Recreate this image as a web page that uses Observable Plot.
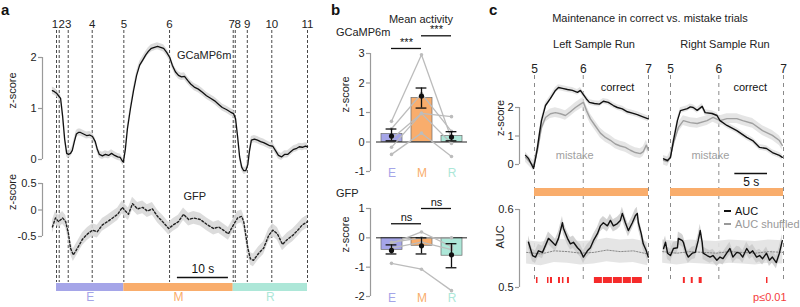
<!DOCTYPE html>
<html><head><meta charset="utf-8">
<script src="https://cdn.jsdelivr.net/npm/d3@7"></script>
<script src="https://cdn.jsdelivr.net/npm/@observablehq/plot@0.6"></script>
<style>
body{margin:0;background:#fff;}
#root{position:relative;width:800px;height:307px;overflow:hidden;font-family:"Liberation Sans",Arial,sans-serif;color:#222;background:#fff;}
.lbl{position:absolute;font-size:11px;white-space:nowrap;line-height:1;}
</style></head><body><div id="root"></div>
<script>
// ---------------- data ----------------
const phases = ["E", "M", "R"];
const phaseColors = ["#a5a5e8", "#f9ad6c", "#ade7d8"];

// panel a
const eventNamesA = ["1","2","3","4","5","6","7","8","9","10","11"];
const eventTimesA = [0, 0.53, 2.3, 7.0, 13.2, 22.16, 34.64, 35.04, 37.4, 42.2, 49.2];
const phaseStartA = [0, 13.2, 34.64];
const phaseEndA = [13.2, 34.64, 49.2];
const gcampT = [-0.8,-0.4,0,0.4,0.8,1.2,1.6,2.0,2.35,2.75,3.1,3.5,3.9,4.3,4.7,5.3,5.9,6.5,7.06,7.6,8.0,8.4,9.0,9.6,10.2,10.8,11.4,12.0,12.5,12.9,13.1,13.5,13.9,14.5,15.1,15.7,16.3,16.9,17.5,18.0,18.6,19.2,19.8,20.4,21.0,21.6,22.2,22.7,23.3,23.9,24.5,25.1,25.7,26.3,27.0,27.8,28.6,29.4,30.2,31.0,31.8,32.5,33.3,34.1,34.7,35.1,35.5,35.9,36.3,36.7,37.1,37.5,37.8,38.2,38.8,39.4,40.0,40.6,41.2,41.8,42.4,42.9,43.5,44.1,44.7,45.3,45.9,46.5,47.1,47.6,48.2,48.8,49.2];
const gcampZ = [1.35,1.33,1.3,1.25,1.2,0.85,0.4,0.12,0.1,0.12,0.18,0.35,0.5,0.53,0.53,0.5,0.47,0.48,0.45,0.35,0.2,0.1,0.07,0.1,0.08,0.12,0.08,0.05,0.04,-0.03,-0.05,0.2,0.6,1.0,1.35,1.65,1.85,1.95,2.05,2.12,2.18,2.2,2.22,2.2,2.18,2.1,2.0,1.85,1.72,1.65,1.62,1.63,1.55,1.48,1.42,1.38,1.32,1.25,1.2,1.15,1.08,1.02,0.98,0.93,0.9,0.8,0.45,0.05,-0.15,-0.22,-0.22,-0.1,0.15,0.38,0.4,0.38,0.35,0.33,0.3,0.27,0.26,0.18,0.08,0.05,0.1,0.1,0.15,0.2,0.22,0.25,0.24,0.26,0.25];
const gcampSem = 0.07;
const gfpT = [-0.8,-0.2,0.4,1.2,1.8,2.35,2.75,3.3,4.1,5.1,6.1,7.06,8.0,9.0,10.0,11.0,12.0,12.9,13.5,14.1,14.9,15.9,16.9,17.8,18.8,19.8,20.8,22.0,22.9,23.9,24.9,25.9,26.9,28.2,29.6,30.8,31.8,32.7,33.7,34.7,35.5,36.3,36.7,37.5,38.0,38.6,39.6,40.6,41.6,42.4,43.3,44.3,45.3,46.3,47.3,48.2,49.2];
const gfpZ = [-0.32,-0.15,-0.22,-0.15,-0.22,-0.45,-0.72,-0.85,-0.72,-0.55,-0.45,-0.38,-0.41,-0.28,-0.22,-0.15,-0.08,0.05,-0.02,-0.08,0.12,0.02,0.05,-0.02,0.02,-0.12,-0.22,-0.35,-0.28,-0.22,-0.08,-0.18,-0.15,-0.18,-0.28,-0.35,-0.32,-0.38,-0.45,-0.28,-0.15,-0.12,-0.22,-0.72,-0.92,-0.95,-0.82,-0.72,-0.48,-0.38,-0.45,-0.65,-0.55,-0.48,-0.38,-0.28,-0.22];
const gfpSem = 0.12;

// panel b
const gcampBar = [0.27, 1.49, 0.2];
const gcampErrLo = [0.04, 1.15, 0.04];
const gcampErrHi = [0.44, 1.83, 0.35];
const gcampMean = [0.2, 1.56, 0.17];
const gcampSubjects = [
  [0.7, 2.96, 0.1],
  [0.45, 1.64, 0.36],
  [0.1, 0.97, 0.86],
  [-0.18, 0.97, -0.05],
  [-0.42, 0.3, -0.49]
];
const gfpBar = [-0.41, -0.27, -0.61];
const gfpErrLo = [-0.55, -0.55, -1.02];
const gfpErrHi = [-0.24, 0.0, -0.2];
const gfpMean = [-0.43, -0.27, -0.58];
const gfpSubjects = [
  [-0.87, -1.07, -1.8],
  [-0.2, 0.2, -0.3],
  [-0.15, 0.0, 0.0],
  [-0.35, -0.15, -0.4]
];
const sigGcamp = [{a:"E", b:"M", level:3.17, label:"***"}, {a:"M", b:"R", level:3.6, label:"***"}];
const sigGfp = [{a:"E", b:"M", level:0.48, label:"ns"}, {a:"M", b:"R", level:1.0, label:"ns"}];

// panel c
const eventNamesC = ["5", "6", "7"];
const eventTimesC = [0, 7.4, 17.3];
const leftCorrT = [-1.36,-0.91,-0.45,-0.15,0.15,0.45,0.76,1.06,1.67,2.42,3.18,3.64,4.24,5.0,5.76,6.52,6.97,7.42,7.88,8.33,9.09,9.85,10.45,11.2,11.97,12.58,13.33,14.09,14.85,15.6,16.36,17.27];
const leftCorrZ = [0.32,0.21,0.0,-0.14,0.2,0.6,1.1,1.54,2.07,2.32,2.6,2.7,2.67,2.63,2.6,2.53,2.6,2.45,2.3,2.18,2.14,2.12,2.22,2.18,2.07,2.0,1.95,1.85,1.8,1.75,1.68,1.6];
const leftMistT = [-1.36,-0.76,-0.15,0.45,1.06,1.67,2.42,3.18,3.94,4.7,5.45,6.21,6.97,7.42,7.88,8.48,9.24,10.0,10.76,11.52,12.27,13.03,13.79,14.55,15.3,16.06,16.5,16.97,17.27];
const leftMistZ = [0.25,0.1,-0.04,0.49,1.3,1.65,1.78,1.82,1.78,1.72,1.85,2.0,2.12,2.18,1.9,1.6,1.35,1.1,0.95,0.85,0.72,0.65,0.6,0.5,0.42,0.38,0.45,0.68,0.5];
const rightCorrT = [-1.06,-0.45,0,0.45,1.06,1.52,2.58,3.03,3.48,4.09,4.85,5.3,6.36,7.12,7.58,8.64,10.15,11.67,12.58,13.64,14.7,15.6,16.67,17.12];
const rightCorrZ = [0.2,0.14,0.25,0.84,1.54,1.89,1.96,2.02,2.0,1.9,2.04,1.82,1.79,1.72,1.54,1.37,1.19,0.95,0.84,0.6,0.56,0.42,0.32,0.25];
const rightMistT = [-1.06,-0.45,0,0.45,1.21,1.97,3.03,4.09,5.6,6.52,7.58,8.64,10.15,11.06,12.58,14.09,15.6,16.67,17.12];
const rightMistZ = [0.15,0.1,0.3,0.74,1.3,1.54,1.47,1.44,1.54,1.65,1.54,1.61,1.61,1.54,1.44,1.19,1.02,0.84,0.67];
const corrSem = 0.1, mistSem = 0.17;
const leftAucT = [-0.91,-0.3,0.15,0.6,1.21,1.67,2.12,2.73,3.18,3.64,4.24,4.39,5.0,5.45,5.91,6.52,6.97,7.42,8.03,8.48,8.94,9.55,10.0,10.45,11.06,11.52,11.97,12.58,13.03,13.33,13.79,14.24,14.85,15.3,15.6,15.76,16.2,16.5,16.97,17.27];
const leftAuc = [0.558,0.541,0.539,0.547,0.545,0.554,0.563,0.558,0.554,0.563,0.583,0.576,0.563,0.556,0.558,0.551,0.547,0.539,0.547,0.551,0.56,0.569,0.579,0.583,0.579,0.586,0.579,0.582,0.586,0.595,0.583,0.573,0.583,0.592,0.595,0.583,0.569,0.556,0.547,0.539];
const rightAucT = [-1.06,-0.76,-0.45,0,0.45,1.06,1.21,1.82,1.97,2.42,2.73,3.33,3.79,4.24,4.55,4.85,5.0,5.6,6.06,6.5,7.1,7.58,8.03,8.6,9.1,9.55,10.15,10.6,11.06,11.67,12.12,12.58,13.18,13.64,14.1,14.7,15.15,15.6,16.2,16.67,17.12];
const rightAuc = [0.55,0.558,0.544,0.541,0.55,0.551,0.563,0.56,0.558,0.544,0.539,0.544,0.545,0.56,0.573,0.558,0.544,0.541,0.539,0.541,0.535,0.539,0.537,0.544,0.55,0.539,0.545,0.544,0.539,0.55,0.544,0.547,0.539,0.541,0.537,0.544,0.535,0.539,0.532,0.544,0.56];
const shufT = [-1.2,1,3,5,7,9,11,13,15,17.2];
const leftShuf = [0.545,0.543,0.547,0.546,0.544,0.545,0.548,0.546,0.547,0.543];
const rightShuf = [0.546,0.544,0.546,0.545,0.544,0.546,0.545,0.544,0.546,0.545];
const aucSem = 0.008, shufSem = 0.015;
const sigLeft = [[0.3,0.53],[1.97,2.2],[2.42,2.73],[3.64,3.94],[4.24,4.47],[5.0,5.3],[9.09,10.3],[10.45,11.82],[11.97,13.33],[13.48,14.7],[14.85,16.36]];
const sigRight = [[1.97,2.27],[3.18,3.48],[4.39,4.85],[14.7,14.92]];

// ---------------- helpers ----------------
const W = 800, H = 307;
const FONT = "'Liberation Sans', Arial, sans-serif";
const AX = "#9a9a9a";
const root = document.getElementById("root");
const zipTZ = (T, Z) => T.map((t, i) => ({t, z: Z[i]}));

function place(opts) {
  const svg = Plot.plot({
    width: W, height: H, marginTop: 0, marginRight: 0, marginBottom: 0, marginLeft: 0,
    color: {type: "identity"},
    ...opts,
    style: {"position": "absolute", "left": "0px", "top": "0px", "overflow": "visible",
            "font-family": FONT, "font-size": "11px", "background": "transparent"}
  });
  root.append(svg);
}
function axisPlot({left, top, bottom, domain, ticks, label, labelDx}) {
  place({
    marginLeft: left, marginRight: W - left - 1, marginTop: top, marginBottom: H - bottom,
    x: {domain: [0, 1], axis: null}, y: {domain, axis: null},
    marks: [
      Plot.ruleX([0], {stroke: AX, strokeWidth: 1.2}),
      Plot.axisY({ticks, tickFormat: d => String(d), tickSize: 4, tickPadding: 2, stroke: AX, strokeWidth: 1.2, fill: "#222", fontSize: 11, label: null}),
      Plot.text([label], {text: d => d, frameAnchor: "left", dx: labelDx, rotate: -90, fontSize: 11, fill: "#222"})
    ]
  });
}
function label(text, x, y, {anchor = "start", size = 11, color = "#222", weight = "normal"} = {}) {
  const d = document.createElement("div");
  d.className = "lbl";
  d.textContent = text;
  d.style.left = x + "px"; d.style.top = y + "px";
  d.style.fontSize = size + "px"; d.style.color = color; d.style.fontWeight = weight;
  const tx = anchor === "middle" ? "-50%" : anchor === "end" ? "-100%" : "0";
  d.style.transform = `translate(${tx},-50%)`;
  root.append(d);
  return d;
}

// ---------------- panel a ----------------
const gcamp = zipTZ(gcampT, gcampZ);
const gfp = zipTZ(gfpT, gfpZ);
const eventsA = eventNamesA.map((name, i) => ({name, t: eventTimesA[i]}));
const phaseA = phases.map((name, i) => ({name, start: phaseStartA[i], end: phaseEndA[i], color: phaseColors[i]}));
const xA = {domain: [0, 49.2], range: [56, 307], axis: null};

place({
  marginTop: 30, marginBottom: H - 282, x: xA, y: {domain: [0, 1], axis: null},
  marks: [
    Plot.ruleX(eventsA, {x: "t", stroke: "#333", strokeWidth: 0.9, strokeDasharray: "3,2"}),
    Plot.text(eventsA.filter(d => !["1","2","7","8"].includes(d.name)), {x: "t", text: "name", frameAnchor: "top", dy: -11, fontSize: 11.5, fill: "#222"}),
    Plot.text(eventsA.filter(d => ["1","7"].includes(d.name)), {x: "t", text: "name", frameAnchor: "top", dy: -11, dx: -1.5, fontSize: 11.5, fill: "#222"}),
    Plot.text(eventsA.filter(d => ["2","8"].includes(d.name)), {x: "t", text: "name", frameAnchor: "top", dy: -11, dx: 2.5, fontSize: 11.5, fill: "#222"}),
    Plot.ruleY([{start: 23.7, len: 10}], {y: () => 0, x1: "start", x2: d => d.start + d.len, dy: -5, stroke: "#111", strokeWidth: 1.3}),
    Plot.text([{start: 23.7, len: 10, label: "10 s"}], {x: d => d.start + d.len / 2, y: () => 0, text: "label", dy: -13, fontSize: 12, fill: "#111"})
  ]
});
axisPlot({left: 42, top: 57, bottom: 159, domain: [0, 2], ticks: [0, 1, 2], label: "z-score", labelDx: -30});
place({
  marginTop: 57, marginBottom: H - 159, x: xA, y: {domain: [0, 2], axis: null},
  marks: [
    Plot.areaY(gcamp, {x: "t", y1: d => d.z - gcampSem, y2: d => d.z + gcampSem, fill: "#d6d6d6", fillOpacity: 0.85}),
    Plot.lineY(gcamp, {x: "t", y: "z", stroke: "#111", strokeWidth: 1.3}),
    Plot.text(["GCaMP6m"], {x: 23.6, y: 2.04, text: d => d, textAnchor: "start", fontSize: 11, fill: "#222"})
  ]
});
axisPlot({left: 42, top: 183, bottom: 236, domain: [-0.5, 0.5], ticks: [-0.5, 0, 0.5], label: "z-score", labelDx: -30});
place({
  marginTop: 183, marginBottom: H - 236, x: xA, y: {domain: [-0.5, 0.5], axis: null},
  marks: [
    Plot.areaY(gfp, {x: "t", y1: d => d.z - gfpSem, y2: d => d.z + gfpSem, fill: "#d6d6d6", fillOpacity: 0.85}),
    Plot.lineY(gfp, {x: "t", y: "z", stroke: "#222", strokeWidth: 1.4, strokeDasharray: "2,2"}),
    Plot.text(["GFP"], {x: 24.9, y: 0.26, text: d => d, textAnchor: "start", fontSize: 11, fill: "#222"})
  ]
});
place({
  marginTop: 283, marginBottom: H - 291, x: xA,
  marks: [
    Plot.barX(phaseA, {x1: "start", x2: "end", fill: "color"}),
    Plot.text(phaseA, {x: d => (d.start + d.end) / 2, text: "name", fill: "color", frameAnchor: "bottom", dy: 9, fontSize: 12})
  ]
});

// ---------------- panel b ----------------
// bars on a band scale; overlays on a linear scale of the condition index (centres 391, 421, 451)
const xBband = {type: "band", domain: phases, range: [376, 466], paddingInner: 0.3, paddingOuter: 0.15, axis: null};
const xBidx = {domain: [0, 2], range: [391, 451], axis: null};
const capHalf = 0.18;
function barPanel({top, bottom, domain, ticks, bars, lo, hi, mean, subjects, sig}) {
  axisPlot({left: 370, top, bottom, domain, ticks, label: "z-score", labelDx: -25});
  const barData = phases.map((c, i) => ({c, i, v: bars[i], color: phaseColors[i], lo: lo[i], hi: hi[i], m: mean[i]}));
  const capData = barData.flatMap(d => [{i: d.i, y: d.lo}, {i: d.i, y: d.hi}]);
  const subj = subjects.flatMap((row, s) => row.map((v, i) => ({s, i, v})));
  const sigData = sig.map(d => ({...d, ia: phases.indexOf(d.a), ib: phases.indexOf(d.b)}));
  const common = {marginLeft: 376, marginRight: W - 467, marginTop: top, marginBottom: H - bottom, y: {domain, axis: null}};
  place({
    ...common, x: xBband,
    marks: [
      Plot.barY(barData, {x: "c", y: "v", fill: "color", stroke: "#6a6a6a", strokeWidth: 0.7}),
      Plot.ruleY([0], {stroke: "#222", strokeWidth: 1}),
      Plot.text(barData, {x: "c", text: "c", fill: "color", frameAnchor: "bottom", dy: 5, fontSize: 12})
    ]
  });
  place({
    ...common, x: xBidx,
    marks: [
      Plot.line(subj, {x: "i", y: "v", z: "s", stroke: "#bcbcbc", strokeWidth: 1.3}),
      Plot.dot(subj, {x: "i", y: "v", r: 1.8, fill: "#bcbcbc"}),
      Plot.ruleX(barData, {x: "i", y1: "lo", y2: "hi", stroke: "#111", strokeWidth: 1.3}),
      Plot.ruleY(capData, {y: "y", x1: d => d.i - capHalf, x2: d => d.i + capHalf, stroke: "#111", strokeWidth: 1.3}),
      Plot.dot(barData, {x: "i", y: "m", r: 2.6, fill: "#111"}),
      Plot.ruleY(sigData, {y: "level", x1: "ia", x2: "ib", stroke: "#111", strokeWidth: 1.3}),
      Plot.text(sigData, {x: d => (d.ia + d.ib) / 2, y: "level", text: "label", dy: -6, fontSize: 11, fill: "#111"})
    ]
  });
}
barPanel({top: 53, bottom: 171, domain: [-1, 3], ticks: [-1, 0, 1, 2, 3], bars: gcampBar, lo: gcampErrLo, hi: gcampErrHi, mean: gcampMean, subjects: gcampSubjects, sig: sigGcamp});
barPanel({top: 208, bottom: 296, domain: [-2, 1], ticks: [-2, -1, 0, 1], bars: gfpBar, lo: gfpErrLo, hi: gfpErrHi, mean: gfpMean, subjects: gfpSubjects, sig: sigGfp});

// ---------------- panel c ----------------
axisPlot({left: 519, top: 107, bottom: 164, domain: [0, 2], ticks: [0, 1, 2], label: "z-score", labelDx: -19});
axisPlot({left: 519, top: 209, bottom: 287, domain: [0.5, 0.6], ticks: [0.5, 0.6], label: "AUC", labelDx: -19});
const eventsC = eventNamesC.map((name, i) => ({name, t: eventTimesC[i]}));
function run({range, corr, mist, auc, shuf, sig, labels, scaleBar}) {
  const x = {domain: [0, 17.3], range, axis: null};
  place({
    marginTop: 75, marginBottom: H - 283, x, y: {domain: [0, 1], axis: null},
    marks: [
      Plot.ruleX(eventsC, {x: "t", stroke: "#8a8a8a", strokeWidth: 1, strokeDasharray: "4,4"}),
      Plot.text(eventsC, {x: "t", text: "name", frameAnchor: "top", dy: -11, fontSize: 12, fill: "#222"})
    ]
  });
  place({
    marginTop: 107, marginBottom: H - 164, x, y: {domain: [0, 2], axis: null},
    marks: [
      Plot.areaY(mist, {x: "t", y1: d => d.z - mistSem, y2: d => d.z + mistSem, fill: "#dcdcdc", fillOpacity: 0.75}),
      Plot.areaY(corr, {x: "t", y1: d => d.z - corrSem, y2: d => d.z + corrSem, fill: "#dcdcdc", fillOpacity: 0.75}),
      Plot.lineY(mist, {x: "t", y: "z", stroke: "#a0a0a0", strokeWidth: 1.4}),
      Plot.lineY(corr, {x: "t", y: "z", stroke: "#111", strokeWidth: 1.4}),
      Plot.text([labels.correct], {x: "t", y: "z", text: () => "correct", fontSize: 11, fill: "#111"}),
      Plot.text([labels.mistake], {x: "t", y: "z", text: () => "mistake", fontSize: 11, fill: "#a0a0a0"})
    ]
  });
  place({
    marginTop: 188, marginBottom: H - 196, x, y: {domain: [0, 1], axis: null},
    marks: [
      Plot.barX([{start: eventTimesC[0], end: eventTimesC[2]}], {x1: "start", x2: "end", fill: phaseColors[1]}),
      ...(scaleBar ? [
        Plot.ruleY([scaleBar], {y: () => 1, x1: "start", x2: d => d.start + d.len, dy: -15, stroke: "#111", strokeWidth: 1.3}),
        Plot.text([scaleBar], {x: d => d.start + d.len / 2, y: () => 1, text: "label", dy: -6, fontSize: 12, fill: "#111"})
      ] : [])
    ]
  });
  place({
    marginTop: 209, marginBottom: H - 287, x, y: {domain: [0.5, 0.6], axis: null},
    marks: [
      Plot.areaY(shuf, {x: "t", y1: d => d.z - shufSem, y2: d => d.z + shufSem, fill: "#e2e2e2", fillOpacity: 0.9}),
      Plot.areaY(auc, {x: "t", y1: d => d.z - aucSem, y2: d => d.z + aucSem, fill: "#c8c8c8", fillOpacity: 0.8}),
      Plot.lineY(shuf, {x: "t", y: "z", stroke: "#888", strokeWidth: 1, strokeDasharray: "1.5,1.5"}),
      Plot.lineY(auc, {x: "t", y: "z", stroke: "#111", strokeWidth: 1.4})
    ]
  });
  place({
    marginTop: 277, marginBottom: H - 283, x,
    marks: [Plot.barX(sig.map(([s, e]) => ({s, e})), {x1: "s", x2: "e", fill: "#f52a2a"})]
  });
}
run({range: [534, 648], corr: zipTZ(leftCorrT, leftCorrZ), mist: zipTZ(leftMistT, leftMistZ),
     auc: zipTZ(leftAucT, leftAuc), shuf: zipTZ(shufT, leftShuf), sig: sigLeft,
     labels: {correct: {t: 12.6, z: 2.72}, mistake: {t: 6.1, z: 0.32}}});
run({range: [670, 783], corr: zipTZ(rightCorrT, rightCorrZ), mist: zipTZ(rightMistT, rightMistZ),
     auc: zipTZ(rightAucT, rightAuc), shuf: zipTZ(shufT, rightShuf), sig: sigRight,
     labels: {correct: {t: 12.2, z: 2.72}, mistake: {t: 6.1, z: 0.32}},
     scaleBar: {start: 9.85, len: 5, label: "5 s"}});

// ---------------- free text ----------------
label("a", 1, 9, {size: 15, weight: "bold", color: "#111"});
label("b", 331, 9, {size: 15, weight: "bold", color: "#111"});
label("c", 489, 9, {size: 15, weight: "bold", color: "#111"});
label("Mean activity", 421, 19, {anchor: "middle"});
label("GCaMP6m", 336, 32);
label("GFP", 336, 193);
label("Maintenance in correct vs. mistake trials", 650, 18, {anchor: "middle"});
label("Left Sample Run", 594, 44, {anchor: "middle"});
label("Right Sample Run", 725, 44, {anchor: "middle"});
label("p\u22640.01", 753, 297, {color: "#f43c3c"});
const lg1 = document.createElement("div");
lg1.style.cssText = "position:absolute;left:724px;top:210px;width:7px;height:2px;background:#111;";
root.append(lg1);
const lg2 = document.createElement("div");
lg2.style.cssText = "position:absolute;left:724px;top:223px;width:7px;height:1.5px;background:#999;";
root.append(lg2);
label("AUC", 735, 211, {color: "#111"});
label("AUC shuffled", 735, 224, {color: "#999"});
</script>
</body></html>
